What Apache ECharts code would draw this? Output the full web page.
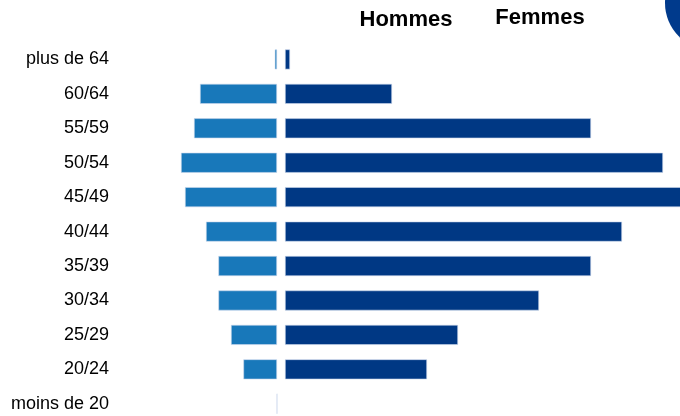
<!DOCTYPE html>
<html>
<head>
<meta charset="utf-8">
<script src="https://cdn.jsdelivr.net/npm/echarts@6/dist/echarts.min.js"></script>
<style>html,body{margin:0;padding:0;background:#fff}#c{width:680px;height:416px}</style>
</head>
<body>
<div id="c"></div>
<script>
// Age groups, bottom to top
const categories = ['moins de 20','20/24','25/29','30/34','35/39','40/44','45/49','50/54','55/59','60/64','plus de 64'];
const hommes = [0, 33.6, 46, 58.6, 58.6, 71, 92, 96, 83, 77, 2.2];
const femmes = [0, 142, 173, 254, 306, 337, 400, 378, 306, 107, 5];
const seriesNames = ['Hommes', 'Femmes'];

const chart = echarts.init(document.getElementById('c'), null, {renderer: 'canvas'});
const FONT = '"Liberation Sans", Arial, sans-serif';
const hiddenValueAxis = {
  type: 'value', min: 0,
  axisLine: {show: false}, axisTick: {show: false},
  axisLabel: {show: false}, splitLine: {show: false}
};
chart.setOption({
  animation: false,
  backgroundColor: '#ffffff',
  grid: [
    {left: 117, width: 160, top: 42.2, height: 378.8, outerBoundsMode: 'none', containLabel: false},
    {left: 285, width: 400, top: 42.2, height: 378.8, outerBoundsMode: 'none', containLabel: false}
  ],
  xAxis: [
    Object.assign({gridIndex: 0, max: 160, inverse: true}, hiddenValueAxis),
    Object.assign({gridIndex: 1, max: 400}, hiddenValueAxis)
  ],
  yAxis: [
    {
      gridIndex: 0, type: 'category', data: categories, position: 'left',
      axisLine: {show: false}, axisTick: {show: false},
      axisLabel: {margin: 8, color: '#000', fontFamily: FONT, fontSize: 18}
    },
    {
      gridIndex: 1, type: 'category', data: categories,
      axisLine: {show: false}, axisTick: {show: false}, axisLabel: {show: false}
    }
  ],
  series: [
    {
      name: seriesNames[0], type: 'bar', xAxisIndex: 0, yAxisIndex: 0,
      data: hommes, barWidth: 20,
      itemStyle: {color: '#1878BA', borderColor: '#cdd8ec', borderWidth: 0.6}
    },
    {
      name: seriesNames[1], type: 'bar', xAxisIndex: 1, yAxisIndex: 1,
      data: femmes.map(v => v === 0 ? {value: v, itemStyle: {borderWidth: 0}} : v),
      barWidth: 20,
      itemStyle: {color: '#003884', borderColor: '#cdd8ec', borderWidth: 0.6}
    }
  ],
  graphic: [
    {type: 'circle', shape: {cx: 712, cy: 3, r: 47}, style: {fill: '#003A8C'}, z: 10},
    {type: 'text', x: 406, y: 20, style: {text: seriesNames[0], fill: '#000', font: 'bold 22px ' + FONT, textAlign: 'center', textVerticalAlign: 'middle'}},
    {type: 'text', x: 540, y: 18, style: {text: seriesNames[1], fill: '#000', font: 'bold 22px ' + FONT, textAlign: 'center', textVerticalAlign: 'middle'}}
  ]
});
</script>
</body>
</html>
